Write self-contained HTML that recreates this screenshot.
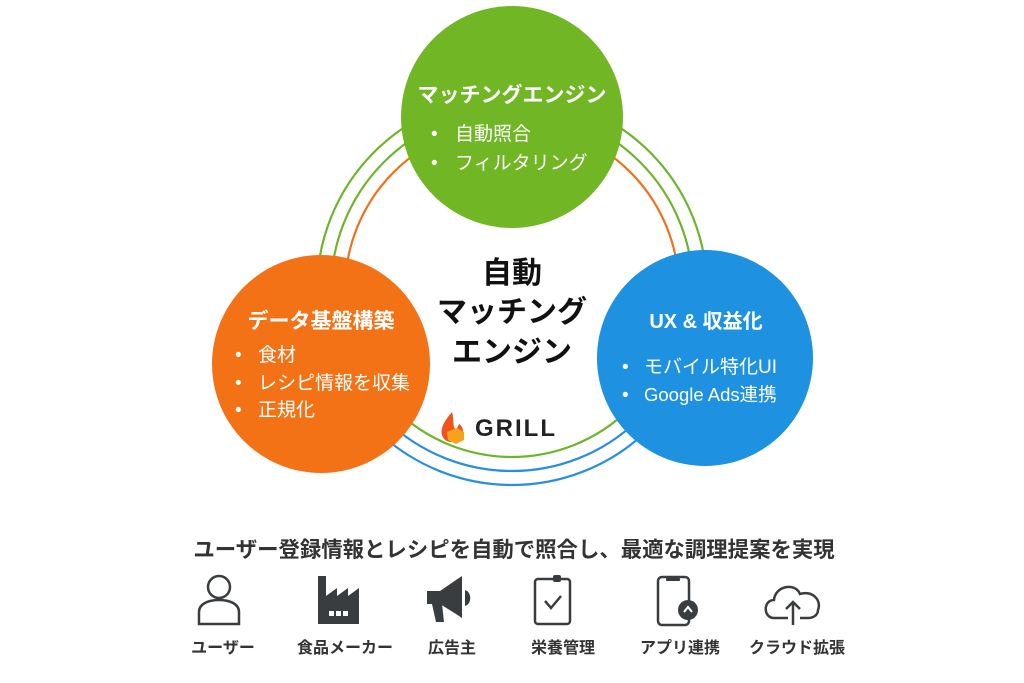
<!DOCTYPE html>
<html><head><meta charset="utf-8"><style>
html,body{margin:0;padding:0;background:#fff;}
body{width:1024px;height:683px;position:relative;overflow:hidden;font-family:"Liberation Sans","Noto Sans CJK JP",sans-serif;}
</style></head><body>
<svg width="1024" height="683" style="position:absolute;left:0;top:0" font-family="Liberation Sans, Noto Sans CJK JP, sans-serif">
<g fill="none" stroke-width="2.2">
<path d="M317,290 A195,195 0 0 1 707,290" stroke="#6db52a"/>
<path d="M317,290 A195,195 0 0 0 707,290" stroke="#2a8ee0"/>
<path d="M331,290 A181,181 0 0 1 693,290" stroke="#6db52a"/>
<path d="M331,290 A181,181 0 0 0 693,290" stroke="#2a8ee0"/>
<path d="M345,290 A167,167 0 0 1 679,290" stroke="#f26f1b"/>
<path d="M345,290 A167,167 0 0 0 679,290" stroke="#6db52a"/>
</g>
<circle cx="512" cy="117" r="111" fill="#71b625"/>
<circle cx="321" cy="364" r="109" fill="#f47216"/>
<circle cx="705" cy="358" r="108" fill="#1e92e0"/>
<g fill="#fff" text-anchor="middle" font-weight="bold" font-size="21">
<text x="512" y="102">マッチングエンジン</text>
<text x="321" y="328">データ基盤構築</text>
<text x="706" y="328" font-size="20">UX &amp; 収益化</text>
</g>
<g fill="#fff" font-size="19">
<text x="431" y="140">•</text><text x="455" y="140">自動照合</text>
<text x="431" y="169">•</text><text x="455" y="169">フィルタリング</text>
<text x="235" y="361">•</text><text x="258" y="361">食材</text>
<text x="235" y="389">•</text><text x="258" y="389">レシピ情報を収集</text>
<text x="235" y="416">•</text><text x="258" y="416">正規化</text>
<text x="622" y="373">•</text><text x="644" y="373">モバイル特化UI</text>
<text x="622" y="401">•</text><text x="644" y="401" font-size="18.5">Google Ads連携</text>
</g>
<g fill="#111" text-anchor="middle" font-weight="bold" font-size="30">
<text x="512" y="283">自動</text>
<text x="512" y="322">マッチング</text>
<text x="512" y="362">エンジン</text>
</g>
<path d="M452,412 C445,420 440,428 442,435 C444,442 452,444 458,440 C464,436 465,428 459,424 L456,430 C452,426 454,418 452,412Z" fill="#f0541c"/>
<path d="M447,432 L457,428 L464,432 L464,440 L456,444 L448,440Z" fill="#f7a21b"/>
<text x="475" y="436" font-size="24" font-weight="bold" fill="#222" letter-spacing="2">GRILL</text>
<text x="514" y="557" text-anchor="middle" font-size="21.4" font-weight="bold" fill="#333">ユーザー登録情報とレシピを自動で照合し、最適な調理提案を実現</text>
<g fill="#333" text-anchor="middle" font-size="16" font-weight="bold">
<text x="223" y="653">ユーザー</text>
<text x="345" y="653">食品メーカー</text>
<text x="452" y="653">広告主</text>
<text x="563" y="653">栄養管理</text>
<text x="680" y="653">アプリ連携</text>
<text x="797" y="653">クラウド拡張</text>
</g>
<g stroke="#3a3d40" stroke-width="2.5" fill="none">
<circle cx="219" cy="587" r="11"/>
<path d="M199,624 L199,612 C199,604 208,600 219,600 C230,600 239,604 239,612 L239,624Z"/>
<rect x="535" y="579" width="35" height="45" rx="3"/>
<path d="M545,601 L551,608 L561,596"/>
<rect x="658" y="577" width="31" height="48" rx="4"/>
<path d="M788,618 L774,618 C763,618 763,600 774,600 C775,586 795,582 800,594 C812,590 822,600 818,610 C818,616 812,618 808,618 L800,618"/>
<path d="M793,625 L793,602 M786,609 L793,602 L800,609"/>
</g>
<g fill="#3a3d40">
<path d="M318,624 L318,576 L326,576 L326,596 L337,588 L337,596 L348,588 L348,596 L359,588 L359,624Z"/>
<rect x="553" y="575" width="8" height="7" rx="2"/>
<path d="M427,591 L440,591 L456,580 L462,576 L462,618 L456,614 L440,604 L427,604Z"/>
<path d="M432,604 L442,604 L444,622 L436,622Z"/>
<path d="M465,590 C472,592 472,604 465,606Z"/>
<rect x="666" y="578" width="14" height="3" rx="1"/>
<circle cx="688" cy="610" r="10"/>
</g>
<g fill="#fff"><rect x="329" y="611" width="5" height="5"/><rect x="336" y="611" width="5" height="5"/><rect x="343" y="611" width="5" height="5"/></g>
<path d="M684,612 L688,607 L692,612" stroke="#fff" stroke-width="2" fill="none"/>
</svg>
</body></html>
